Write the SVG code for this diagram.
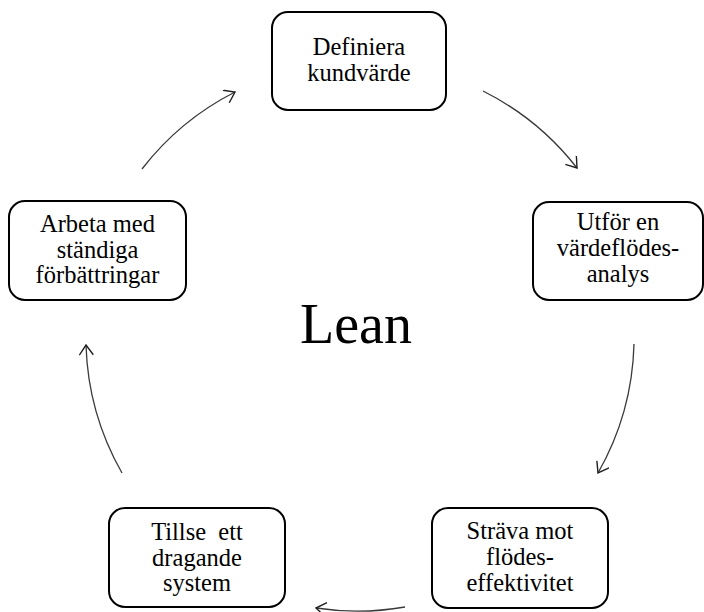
<svg xmlns="http://www.w3.org/2000/svg" width="704" height="612" viewBox="0 0 704 612">
  <style>
    .box { fill: #ffffff; stroke: #000000; stroke-width: 2; }
    .label { font-family: 'Liberation Serif', 'DejaVu Serif', 'Noto Serif', serif; font-size: 24.5px; fill: #000000; text-anchor: middle; }
    .title { font-family: 'Liberation Serif', 'DejaVu Serif', 'Noto Serif', serif; font-size: 56px; fill: #000000; text-anchor: middle; }
    .flow { fill: none; stroke: #3a3a3a; stroke-width: 1.3; marker-end: url(#open-arrow); }
  </style>
  <defs>
    <marker id="open-arrow" markerUnits="userSpaceOnUse" markerWidth="16" markerHeight="16" refX="12" refY="7" orient="auto">
      <path d="M2,0 L12,7 L2,14" fill="none" stroke="#202020" stroke-width="1.4"/>
    </marker>
  </defs>

  <rect width="704" height="612" fill="#ffffff"/>

  <text class="title" x="356" y="343">Lean</text>

  <g id="connectors">
    <path class="flow" d="M142,169 A275,275 0 0 1 235,92"/>
    <path class="flow" d="M483,91 A275,275 0 0 1 577,168"/>
    <path class="flow" d="M634,344 A275,275 0 0 1 598,473"/>
    <path class="flow" d="M405,607 A275,275 0 0 1 316,608"/>
    <path class="flow" d="M122,473 A275,275 0 0 1 86,345"/>
  </g>

  <g id="node-definiera">
    <rect class="box" x="272" y="12" width="174" height="98" rx="16"/>
    <text class="label" x="359" y="55">Definiera</text>
    <text class="label" x="359" y="81">kundvärde</text>
  </g>

  <g id="node-utfor">
    <rect class="box" x="533" y="202" width="170" height="98" rx="16"/>
    <text class="label" x="618" y="230">Utför en</text>
    <text class="label" x="618" y="256">värdeflödes-</text>
    <text class="label" x="618" y="282">analys</text>
  </g>

  <g id="node-strava">
    <rect class="box" x="432" y="508" width="176" height="100" rx="16"/>
    <text class="label" x="520" y="539">Sträva mot</text>
    <text class="label" x="520" y="565">flödes-</text>
    <text class="label" x="520" y="591">effektivitet</text>
  </g>

  <g id="node-tillse">
    <rect class="box" x="109" y="508" width="176" height="99" rx="16"/>
    <text class="label" x="197" y="540" xml:space="preserve">Tillse  ett</text>
    <text class="label" x="197" y="566">dragande</text>
    <text class="label" x="197" y="591">system</text>
  </g>

  <g id="node-arbeta">
    <rect class="box" x="9" y="201" width="177" height="99" rx="16"/>
    <text class="label" x="97.5" y="232">Arbeta med</text>
    <text class="label" x="97.5" y="258">ständiga</text>
    <text class="label" x="97.5" y="283">förbättringar</text>
  </g>
</svg>
